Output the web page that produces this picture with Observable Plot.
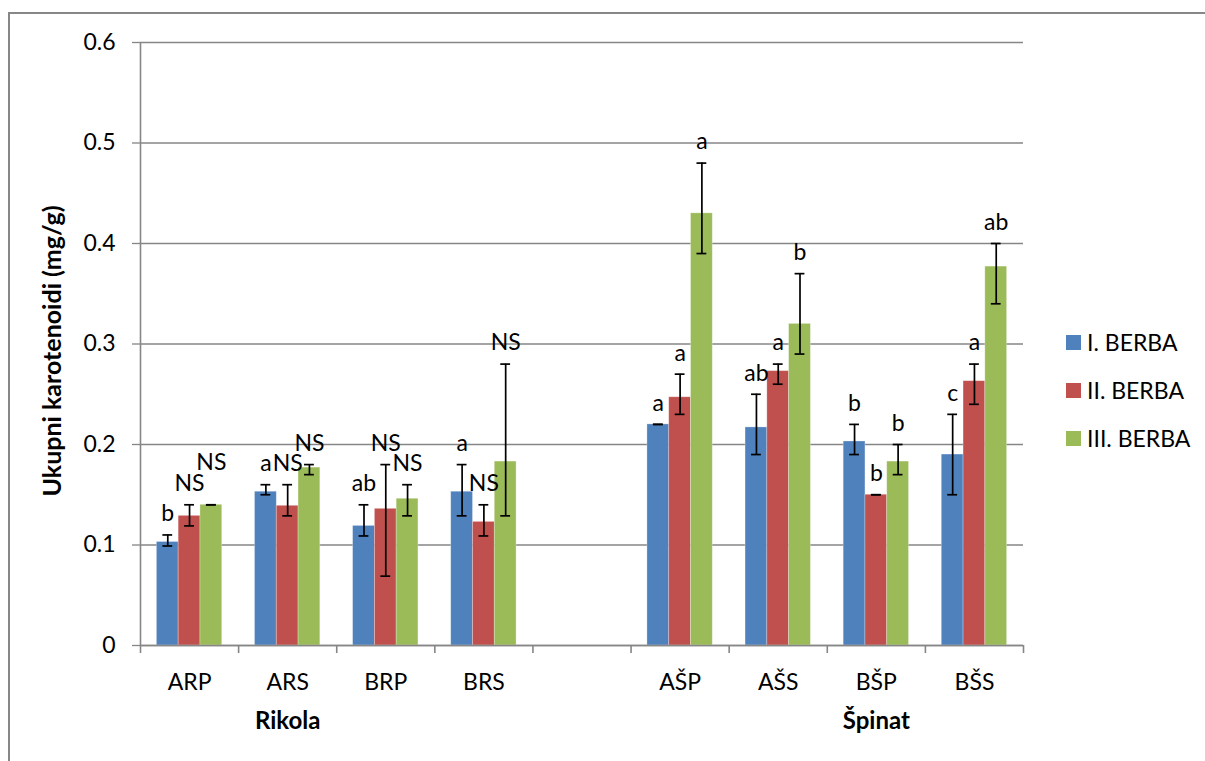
<!DOCTYPE html>
<html>
<head>
<meta charset="utf-8">
<script src="https://cdn.jsdelivr.net/npm/d3@7"></script>
<script src="https://cdn.jsdelivr.net/npm/@observablehq/plot@0.6"></script>
<style>
  html, body { margin: 0; padding: 0; background: #fff; }
  #wrap { position: relative; width: 1205px; height: 761px; overflow: hidden; font-family: Lato, "Open Sans", sans-serif; }
  #border { position: absolute; left: 8px; top: 12px; right: -10px; bottom: -10px; border-left: 2px solid #878787; border-top: 2px solid #878787; }
  #legend { position: absolute; left: 1066px; top: 329px; font-size: 23px; color: #000; }
  .item { display: flex; align-items: center; height: 26px; margin-bottom: 22px; }
  .sw { width: 15px; height: 15px; margin-right: 6px; flex: none; }
  svg { position: absolute; left: 0; top: 0; }
</style>
</head>
<body>
<div id="wrap"><div id="border"></div><div id="legend"></div></div>
<script>
const categories = ["ARP", "ARS", "BRP", "BRS", "", "AŠP", "AŠS", "BŠP", "BŠS"];
const series = ["I. BERBA", "II. BERBA", "III. BERBA"];
const colors = ["#4F81BD", "#C0504D", "#9BBB59"];

const valuesI   = [0.103, 0.153, 0.119, 0.153, null, 0.220, 0.217, 0.203, 0.190];
const lowI      = [0.099, 0.150, 0.109, 0.129, null, 0.220, 0.190, 0.190, 0.150];
const highI     = [0.110, 0.160, 0.140, 0.180, null, 0.220, 0.250, 0.220, 0.230];
const labelsI   = ["b", "a", "ab", "a", null, "a", "ab", "b", "c"];

const valuesII  = [0.129, 0.139, 0.136, 0.123, null, 0.247, 0.273, 0.150, 0.263];
const lowII     = [0.119, 0.129, 0.069, 0.109, null, 0.230, 0.260, 0.150, 0.240];
const highII    = [0.140, 0.160, 0.180, 0.140, null, 0.270, 0.280, 0.150, 0.280];
const labelsII  = ["NS", "NS", "NS", "NS", null, "a", "a", "b", "a"];

const valuesIII = [0.140, 0.177, 0.146, 0.183, null, 0.430, 0.320, 0.183, 0.377];
const lowIII    = [0.140, 0.170, 0.129, 0.129, null, 0.390, 0.290, 0.170, 0.340];
const highIII   = [0.140, 0.180, 0.160, 0.280, null, 0.480, 0.370, 0.200, 0.400];
const labelsIII = ["NS", "NS", "NS", "NS", null, "a", "b", "b", "ab"];

const yTicks = [0, 0.1, 0.2, 0.3, 0.4, 0.5, 0.6];
const yTitle = "Ukupni karotenoidi (mg/g)";
const groups = [{name: "Rikola", at: "ARS"}, {name: "Špinat", at: "BŠP"}];

const seriesData = [
  [valuesI, lowI, highI, labelsI],
  [valuesII, lowII, highII, labelsII],
  [valuesIII, lowIII, highIII, labelsIII]
];

// layout fractions within one category slot
const barW = 0.222;
const groupPad = (1 - 3 * barW) / 2;

const rows = [];
categories.forEach((cat, i) => {
  seriesData.forEach(([v, lo, hi, lab], s) => {
    if (v[i] == null) return;
    rows.push({cat, i, s, series: series[s], value: v[i], lo: lo[i], hi: hi[i], label: lab[i]});
  });
});
const left = d => d.i + groupPad + d.s * barW;
const center = d => d.i + groupPad + (d.s + 0.5) * barW;

// simple collision avoidance: lift a label if it collides with its left neighbour
const labelStep = 0.021; // about one text line in data units
const approxW = t => t.length * 14;
rows.forEach((d, k) => {
  d.labelY = d.hi;
  const p = rows[k - 1];
  if (p && p.i === d.i) {
    const needX = (approxW(p.label) + approxW(d.label)) / 2;
    if (needX > 24 && Math.abs(p.labelY - d.labelY) < 0.018) d.labelY = p.labelY + labelStep;
  }
});

const gray = "#868686";
const font = "Lato, 'Open Sans', sans-serif";

const chart = Plot.plot({
  width: 1205,
  height: 761,
  marginLeft: 140,
  marginRight: 182,
  marginTop: 42,
  marginBottom: 116,
  style: {fontFamily: font, fontSize: "22px", color: "#000", background: "transparent", overflow: "visible"},
  x: {domain: [0, categories.length], axis: null},
  y: {domain: [0, 0.6], axis: null},
  color: {domain: series, range: colors},
  marks: [
    Plot.gridY(yTicks, {stroke: gray, strokeOpacity: 1, strokeWidth: 1.3}),
    Plot.axisY(yTicks, {tickSize: 8, tickPadding: 17, stroke: gray, strokeWidth: 1.3, tickFormat: d => String(d), fontSize: 23, label: null}),
    Plot.rect(rows, {x1: left, x2: d => left(d) + barW, y1: 0, y2: "value", fill: "series", stroke: "#fff", strokeOpacity: 0.35, strokeWidth: 0.8}),
    Plot.ruleY([0], {stroke: gray, strokeWidth: 1.6}),
    Plot.ruleX([0], {stroke: gray, strokeWidth: 1.6}),
    Plot.axisX(d3.range(categories.length + 1), {tickSize: 8, tickFormat: () => "", stroke: gray, strokeWidth: 1.6, label: null}),
    Plot.axisX(categories.map((c, i) => i + 0.5), {tickSize: 0, tickPadding: 28, tickFormat: d => categories[Math.floor(d)], fontSize: 23, label: null}),
    Plot.ruleX(rows, {x: center, y1: "lo", y2: "hi", stroke: "#000", strokeWidth: 1.7}),
    Plot.ruleY(rows, {y: "hi", x1: d => center(d) - 0.05, x2: d => center(d) + 0.05, stroke: "#000", strokeWidth: 1.7}),
    Plot.ruleY(rows, {y: "lo", x1: d => center(d) - 0.05, x2: d => center(d) + 0.05, stroke: "#000", strokeWidth: 1.7}),
    Plot.text(rows, {x: center, y: "labelY", text: "label", dy: -21, fontSize: 23, fill: "#000"}),
    Plot.text(groups, {x: d => categories.indexOf(d.at) + 0.5, y: () => 0, text: "name", dy: 76, fontSize: 24, fontWeight: "bold", fill: "#000"}),
    Plot.text([yTitle], {frameAnchor: "left", text: d => d, rotate: -90, textAnchor: "middle", dx: -88, dy: 7, fontSize: 25, fontWeight: "bold", fill: "#000"})
  ]
});

document.getElementById("wrap").appendChild(chart);

const legend = document.getElementById("legend");
series.forEach((s, k) => {
  const item = document.createElement("div");
  item.className = "item";
  const sw = document.createElement("div");
  sw.className = "sw";
  sw.style.background = colors[k];
  const t = document.createElement("span");
  t.textContent = s;
  item.appendChild(sw);
  item.appendChild(t);
  legend.appendChild(item);
});
</script>
</body>
</html>
